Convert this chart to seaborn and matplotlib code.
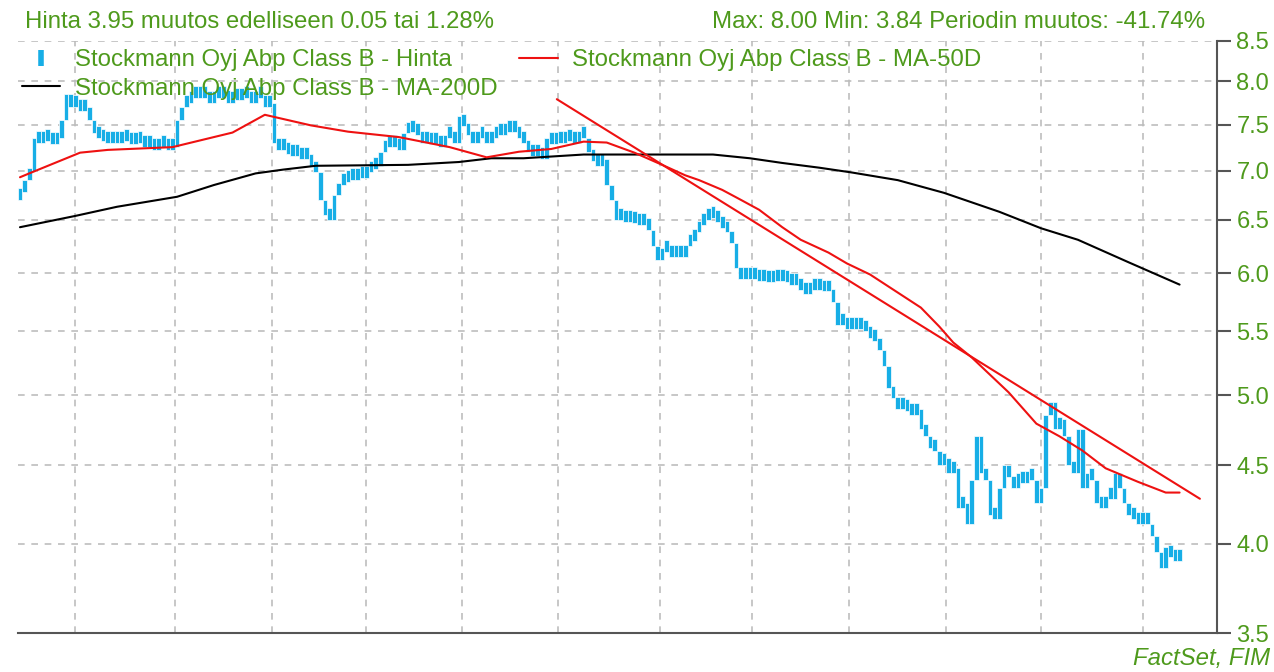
#!/usr/bin/env python3
# Stockmann B daily price with MA-50 / MA-200 and a hand drawn trend line.

import numpy as np
import pandas as pd
import seaborn as sns
import matplotlib.pyplot as plt
from matplotlib.lines import Line2D
from matplotlib.ticker import FixedLocator, FormatStrFormatter, NullLocator

# Daily closes (trading days, oldest first)
closes = [
  6.78, 6.90, 7.00, 7.35, 7.30, 7.35, 7.32, 7.28, 7.35, 7.55,
  7.85, 7.70, 7.75, 7.65, 7.70, 7.55, 7.40, 7.35, 7.32, 7.30,
  7.38, 7.30, 7.40, 7.32, 7.28, 7.35, 7.30, 7.25, 7.30, 7.22,
  7.28, 7.25, 7.22, 7.25, 7.55, 7.70, 7.75, 7.85, 7.80, 7.85,
  7.80, 7.75, 7.85, 7.80, 7.90, 7.75, 7.80, 7.78, 7.85, 7.80,
  7.75, 7.85, 7.80, 7.70, 7.75, 7.30, 7.22, 7.25, 7.18, 7.15,
  7.18, 7.12, 7.15, 7.05, 6.98, 6.70, 6.55, 6.50, 6.75, 6.85,
  6.88, 6.92, 6.90, 6.95, 6.92, 6.98, 7.02, 7.05, 7.20, 7.30,
  7.25, 7.28, 7.22, 7.40, 7.48, 7.42, 7.38, 7.30, 7.35, 7.28,
  7.30, 7.25, 7.35, 7.42, 7.30, 7.60, 7.48, 7.38, 7.30, 7.40,
  7.35, 7.30, 7.35, 7.42, 7.38, 7.45, 7.42, 7.48, 7.35, 7.30,
  7.20, 7.15, 7.18, 7.12, 7.35, 7.28, 7.35, 7.30, 7.32, 7.35,
  7.30, 7.38, 7.35, 7.20, 7.10, 7.05, 7.12, 6.85, 6.70, 6.50,
  6.55, 6.48, 6.50, 6.47, 6.45, 6.48, 6.40, 6.25, 6.12, 6.20,
  6.22, 6.15, 6.18, 6.15, 6.25, 6.30, 6.38, 6.45, 6.50, 6.52,
  6.55, 6.48, 6.42, 6.38, 6.28, 6.05, 5.95, 5.98, 5.95, 5.97,
  5.93, 5.95, 5.92, 5.94, 5.93, 5.95, 5.92, 5.90, 5.93, 5.85,
  5.82, 5.87, 5.85, 5.86, 5.84, 5.86, 5.75, 5.55, 5.58, 5.52,
  5.56, 5.52, 5.55, 5.50, 5.45, 5.42, 5.35, 5.22, 5.05, 4.98,
  4.90, 4.95, 4.88, 4.85, 4.90, 4.75, 4.70, 4.62, 4.60, 4.50,
  4.55, 4.45, 4.48, 4.22, 4.25, 4.12, 4.40, 4.70, 4.45, 4.40,
  4.18, 4.15, 4.35, 4.50, 4.42, 4.35, 4.45, 4.38, 4.45, 4.40,
  4.25, 4.35, 4.85, 4.95, 4.75, 4.82, 4.70, 4.50, 4.45, 4.75,
  4.35, 4.45, 4.40, 4.25, 4.22, 4.30, 4.28, 4.45, 4.35, 4.25,
  4.18, 4.15, 4.12, 4.18, 4.12, 4.05, 3.95, 3.86, 3.98, 3.92,
  3.90, 3.95,
]
first_open = 6.70

# Moving averages (day index, value)
ma50_days = [0, 2, 13, 19, 33, 46, 53, 63, 71, 82, 93, 101, 108, 115, 122, 127,
             133, 139, 144, 147, 152, 156, 160, 165, 169, 175, 179, 184, 190,
             195, 199, 202, 206, 214, 220, 225, 230, 235, 242, 248, 251]
ma50_vals = [6.93, 6.97, 7.19, 7.22, 7.25, 7.41, 7.61, 7.49, 7.42, 7.36, 7.25,
             7.14, 7.20, 7.23, 7.31, 7.30, 7.19, 7.06, 6.95, 6.90, 6.80, 6.70,
             6.60, 6.43, 6.31, 6.19, 6.09, 5.99, 5.83, 5.70, 5.54, 5.41, 5.29,
             5.02, 4.79, 4.70, 4.60, 4.48, 4.39, 4.32, 4.32]

ma200_days = [0, 12, 21, 34, 42, 51, 57, 64, 84, 95, 102, 109, 122, 150, 158,
              165, 173, 180, 190, 200, 212, 221, 229, 240, 251]
ma200_vals = [6.43, 6.54, 6.63, 6.73, 6.85, 6.97, 7.01, 7.05, 7.06, 7.09, 7.13,
              7.13, 7.17, 7.17, 7.13, 7.08, 7.03, 6.98, 6.90, 6.77, 6.58, 6.42,
              6.31, 6.10, 5.90]

trend_days = [116.2, 255.4]
trend_vals = [7.79, 4.28]

# month boundaries (day index) and price ticks
month_ticks = [12, 33.5, 54.5, 75, 95.7, 116.5, 138.5, 158.5, 179.5, 200.5, 221, 243]
price_ticks = [3.5, 4.0, 4.5, 5.0, 5.5, 6.0, 6.5, 7.0, 7.5, 8.0, 8.5]

GREEN = '#4e9a1c'
BLUE = '#17aee6'
GRID = '#bdbdbd'
SPINE = '#555555'
FS = 17.3

sns.set_style('white')
plt.rcParams['font.family'] = ['Liberation Sans', 'DejaVu Sans']

fig = plt.figure(figsize=(12.74, 6.72), dpi=100)
ax = fig.add_axes([18/1274, 39/672, (1217-18)/1274, (633-41)/672])

#### Candles: body from previous close to close
df = pd.DataFrame({'day': np.arange(len(closes)), 'close': closes})
df['open'] = df['close'].shift(1).fillna(first_open)
lo = df[['open', 'close']].min(axis=1)
hi = df[['open', 'close']].max(axis=1)
hi = np.maximum(hi, lo*1.018)
ax.bar(df['day'], hi-lo, bottom=lo, width=1.0, color=BLUE, edgecolor='white',
       linewidth=0.5, zorder=3)

#### Lines
ma50 = pd.DataFrame({'day': ma50_days, 'val': ma50_vals})
ma200 = pd.DataFrame({'day': ma200_days, 'val': ma200_vals})
trend = pd.DataFrame({'day': trend_days, 'val': trend_vals})
sns.lineplot(data=ma200, x='day', y='val', color='black', linewidth=1.5, ax=ax, zorder=4)
sns.lineplot(data=ma50, x='day', y='val', color='#ee1111', linewidth=1.5, ax=ax, zorder=4)
sns.lineplot(data=trend, x='day', y='val', color='#ee1111', linewidth=1.5, ax=ax, zorder=4)

#### Axes
ax.set_yscale('log')
ax.set_ylim(3.5, 8.5)
ax.set_xlim(-0.43, 259.1)
ax.yaxis.set_major_locator(FixedLocator(price_ticks))
ax.yaxis.set_major_formatter(FormatStrFormatter('%.1f'))
ax.yaxis.set_minor_locator(NullLocator())
ax.xaxis.set_major_locator(FixedLocator(month_ticks))
ax.xaxis.set_minor_locator(NullLocator())
ax.set_xticklabels([])
ax.yaxis.tick_right()
ax.set_xlabel('')
ax.set_ylabel('')
ax.tick_params(axis='y', direction='out', length=10, width=1.5, color=SPINE,
               labelcolor=GREEN, labelsize=17, pad=4)
ax.tick_params(axis='x', direction='out', length=10, width=1.5, color=SPINE)
ax.grid(True, which='major', color=GRID, linestyle=(0, (4, 4)), linewidth=1.2)
for side in ['left', 'top']:
  ax.spines[side].set_visible(False)
for side in ['right', 'bottom']:
  ax.spines[side].set_color(SPINE)
  ax.spines[side].set_linewidth(1.5)

#### Legend
handles = [
  Line2D([], [], color=BLUE, marker='|', markersize=11, markeredgewidth=4, linestyle='None'),
  Line2D([], [], color='black', linewidth=1.5),
  Line2D([], [], color='#ee1111', linewidth=1.5),
]
labels = ['Stockmann Oyj Abp Class B - Hinta',
          'Stockmann Oyj Abp Class B - MA-200D',
          'Stockmann Oyj Abp Class B - MA-50D']
leg = ax.legend(handles, labels, ncol=2, loc='upper left', frameon=False,
                bbox_to_anchor=(22/1274, 1-49/672), bbox_transform=fig.transFigure,
                borderaxespad=0, borderpad=0, fontsize=FS, handlelength=1.6,
                handletextpad=0.6, columnspacing=0.9, labelspacing=0.28)
for t in leg.get_texts():
  t.set_color(GREEN)

#### Header / footer texts
fig.text(25/1274, 1-22/672, 'Hinta 3.95 muutos edelliseen 0.05 tai 1.28%',
         color=GREEN, fontsize=FS, ha='left', va='center')
fig.text(1205/1274, 1-22/672, 'Max: 8.00 Min: 3.84 Periodin muutos: -41.74%',
         color=GREEN, fontsize=FS, ha='right', va='center')
fig.text(1270/1274, 1-659/672, 'FactSet, FIM', color=GREEN, fontsize=FS,
         style='italic', ha='right', va='center')

fig.savefig('out.png', dpi=100)
